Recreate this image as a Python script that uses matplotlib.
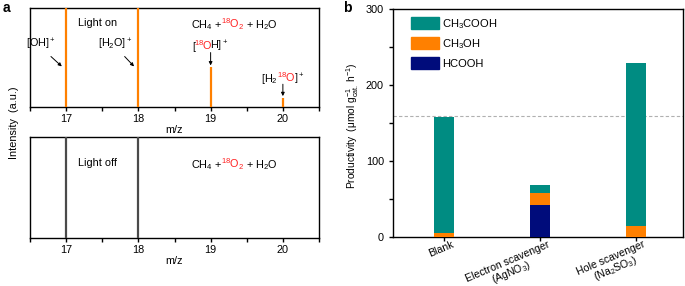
import matplotlib
matplotlib.use("Agg")
import matplotlib.pyplot as plt
import matplotlib.transforms as mtransforms
from matplotlib.patches import Patch
from matplotlib.ticker import MultipleLocator

plt.rcParams['font.family'] = ['Liberation Sans', 'DejaVu Sans']
plt.rcParams['mathtext.fontset'] = 'custom'
plt.rcParams['mathtext.rm'] = 'Liberation Sans'
plt.rcParams['mathtext.it'] = 'Liberation Sans:italic'
plt.rcParams['mathtext.default'] = 'regular'
plt.rcParams['axes.linewidth'] = 1.0

# ---------------- data ----------------
mz_on = [17, 18, 19, 20]
intensity_on = [1.2, 1.2, 0.40, 0.09]
mz_off = [17, 18]
intensity_off = [1.2, 1.2]

categories = ['Blank', 'Electron scavenger\n(AgNO$_3$)', 'Hole scavenger\n(Na$_2$SO$_3$)']
hcooh = [0, 42, 0]
ch3oh = [5, 16, 15]
ch3cooh = [153, 11, 214]
ref_level = 159

ORANGE = '#FF8000'
TEAL = '#008C82'
NAVY = '#000C7B'
RED = '#FF2020'
GRAY = '#4a4a4a'
FS = 7.8

fig = plt.figure(figsize=(6.85, 2.86), dpi=100)
renderer = fig.canvas.get_renderer()

ax1 = fig.add_axes([30/685, 1-107/286, 289/685, 99/286])
ax2 = fig.add_axes([30/685, 1-238/286, 289/685, 101/286])
ax3 = fig.add_axes([393/685, 1-237/286, 290/685, 228/286])


def colored_text(ax, x, y, parts, fs=FS):
    """Pieces (text, colour, kern_px) side by side, centred at x, baseline y."""
    texts = [ax.text(x, y, s, color=c, fontsize=fs, ha='left', va='baseline') for s, c, k in parts]
    widths = [t.get_window_extent(renderer).width for t in texts]
    kerns = [k for s, c, k in parts]
    total = sum(widths) + sum(kerns)
    off = -total / 2
    for t, w, k in zip(texts, widths, kerns):
        off += k
        t.set_transform(ax.transData + mtransforms.ScaledTranslation(off / fig.dpi, 0, fig.dpi_scale_trans))
        off += w


reaction = [('CH$_4$ + ', 'black', 0), ('$^{18}$O$_2$', RED, -1.5), (' + H$_2$O', 'black', -1.0)]

for ax in (ax1, ax2):
    ax.set_xlim(16.5, 20.5)
    ax.set_ylim(0, 1)
    ax.set_yticks([])
    ax.xaxis.set_major_locator(MultipleLocator(1))
    ax.xaxis.set_minor_locator(MultipleLocator(0.5))
    ax.tick_params(axis='x', which='both', direction='out', length=3, width=1.0, labelsize=FS, pad=2)
    ax.set_xlabel('m/z', fontsize=FS, labelpad=1)

ax1.vlines(mz_on, 0, intensity_on, colors=ORANGE, lw=1.6, zorder=3)
ax2.vlines(mz_off, 0, intensity_off, colors=GRAY, lw=1.6, zorder=3)

ax1.text(17.43, 0.85, 'Light on', fontsize=FS, ha='center', va='center')
colored_text(ax1, 19.33, 0.80, reaction)
ax2.text(17.43, 0.74, 'Light off', fontsize=FS, ha='center', va='center')
colored_text(ax2, 19.33, 0.69, reaction)

arrow = dict(arrowstyle='-|>', color='black', lw=0.7, mutation_scale=5, shrinkA=0, shrinkB=0)
ax1.text(16.65, 0.63, '[OH]$^+$', fontsize=FS, ha='center', va='center')
ax1.annotate('', xy=(16.94, 0.41), xytext=(16.79, 0.51), arrowprops=arrow)
ax1.text(17.68, 0.63, '[H$_2$O]$^+$', fontsize=FS, ha='center', va='center')
ax1.annotate('', xy=(17.94, 0.41), xytext=(17.81, 0.51), arrowprops=arrow)
colored_text(ax1, 19.0, 0.58, [('[', 'black', 0), ('$^{18}$O', RED, -1.8), ('H]$^+$', 'black', -2.0)])
ax1.annotate('', xy=(19.0, 0.42), xytext=(19.0, 0.55), arrowprops=arrow)
colored_text(ax1, 20.0, 0.25, [('[H$_2$', 'black', 0), ('$^{18}$O', RED, -1.5), (']$^+$', 'black', -1.5)])
ax1.annotate('', xy=(20.0, 0.11), xytext=(20.0, 0.23), arrowprops=arrow)

fig.text(14/685, 1-123/286, 'Intensity  (a.u.)', rotation=90, fontsize=FS, ha='center', va='center')
fig.text(3/685, 1-8/286, 'a', fontsize=10, fontweight='bold', ha='left', va='center')
fig.text(343/685, 1-8/286, 'b', fontsize=10, fontweight='bold', ha='left', va='center')

# ---------------- panel b ----------------
x = list(range(len(categories)))
w = 0.21
bottom2 = [a + b for a, b in zip(hcooh, ch3oh)]
ax3.bar(x, hcooh, width=w, color=NAVY, zorder=3)
ax3.bar(x, ch3oh, width=w, bottom=hcooh, color=ORANGE, zorder=3)
ax3.bar(x, ch3cooh, width=w, bottom=bottom2, color=TEAL, zorder=3)
ax3.axhline(ref_level, color='#b0b0b0', lw=0.8, ls=(0, (3, 2)), zorder=1)

ax3.set_xlim(-0.53, 2.49)
ax3.set_ylim(0, 300)
ax3.yaxis.set_major_locator(MultipleLocator(100))
ax3.yaxis.set_minor_locator(MultipleLocator(50))
ax3.tick_params(axis='both', which='both', direction='out', length=3, width=1.0, labelsize=FS)
ax3.tick_params(axis='x', pad=0.5)
ax3.set_xticks(x)
ax3.set_xticklabels(categories, rotation=23, ha='right', rotation_mode='anchor',
                    multialignment='center', fontsize=7.6, linespacing=0.95)
offset = mtransforms.ScaledTranslation(7/100, 2.5/100, fig.dpi_scale_trans)
for lab in ax3.get_xticklabels():
    lab.set_transform(lab.get_transform() + offset)
ax3.set_ylabel('Productivity  (μmol g$^{-1}_{cat.}$ h$^{-1}$)', fontsize=7.3)
ax3.yaxis.set_label_coords(-0.112, 0.487)

handles = [Patch(color=TEAL, label='CH$_3$COOH'),
           Patch(color=ORANGE, label='CH$_3$OH'),
           Patch(color=NAVY, label='HCOOH')]
ax3.legend(handles=handles, loc='upper left', bbox_to_anchor=(18/290, 1 - 8/228),
           frameon=False, fontsize=8, handlelength=2.5, handleheight=1.3,
           labelspacing=0.55, handletextpad=0.3, borderpad=0, borderaxespad=0)

fig.savefig('out.png', dpi=100)
